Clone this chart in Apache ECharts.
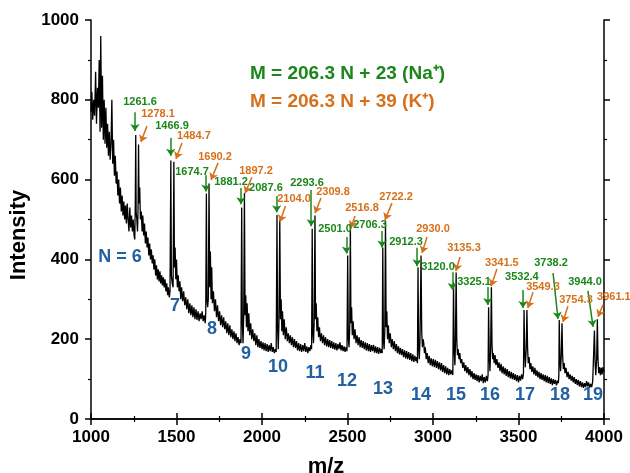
<!DOCTYPE html>
<html>
<head>
<meta charset="utf-8">
<script src="https://cdn.jsdelivr.net/npm/echarts@6/dist/echarts.min.js"></script>
<style>html,body{margin:0;padding:0;background:#fff;}#c{width:630px;height:473px;}</style>
</head>
<body>
<div id="c"></div>
<script>
// ---- data ----
const xTicks = [1000, 1500, 2000, 2500, 3000, 3500, 4000];
const yTicks = [0, 200, 400, 600, 800, 1000];
const naPeaks = [1261.6, 1466.9, 1674.7, 1881.2, 2087.6, 2293.6, 2501.0, 2706.3, 2912.3, 3120.0, 3325.1, 3532.4, 3738.2, 3944.0];
const kPeaks = [1278.1, 1484.7, 1690.2, 1897.2, 2104.0, 2309.8, 2516.8, 2722.2, 2930.0, 3135.3, 3341.5, 3549.3, 3754.3, 3961.1];
const nValues = [6, 7, 8, 9, 10, 11, 12, 13, 14, 15, 16, 17, 18, 19];
const spectrum = [
[1000,770],[1005,820],[1010,750],[1016,800],[1021,760],[1027,870],[1032,740],[1038,830],[1043,780],[1048,900],[1053,720],[1057,960],[1062,730],[1067,860],[1072,700],[1077,800],[1082,690],[1087,780],[1092,680],[1097,740],[1102,660],[1107,720],[1112,650],[1117,690],[1122,800],[1127,640],[1132,700],[1137,610],[1142,660],[1147,590],[1152,620],[1157,560],[1162,600],[1167,540],[1172,580],[1177,520],[1182,560],[1187,510],[1192,545],[1197,500],[1202,535],[1207,490],[1212,540],[1217,500],[1222,470],[1227,530],[1232,480],[1237,510],[1242,470],[1247,500],[1252,460],[1256,450],
[1259,540],[1261.6,712],[1264,520],[1268,500],[1272,470],[1275,520],[1278.1,688],[1281,540],[1285,580],[1289,500],[1294,520],[1299,470],
[1303,510],[1308,460],[1313,490],[1318,440],[1323,470],[1328,430],[1333,455],[1338,410],[1343,440],[1348,400],[1353,425],[1358,390],[1363,410],[1368,375],[1373,400],[1378,360],[1383,385],[1388,350],[1393,375],[1398,345],[1403,370],[1408,340],[1413,360],[1418,335],[1423,355],[1428,330],[1433,350],[1438,320],[1443,340],[1448,310],[1452,330],[1458,305],
[1462,320],[1466.9,648],[1470,360],[1475,340],[1480,330],[1484.7,645],[1488,380],[1492,430],[1496,350],[1500,400],[1505,330],[1510,360],[1515,320],[1520,345],[1525,300],[1530,330],[1536,295],[1542,320],[1548,285],[1554,305],[1560,275],[1566,300],[1572,265],[1578,290],[1584,260],[1590,285],[1596,255],[1602,280],[1608,250],[1614,275],[1620,248],[1626,270],[1632,245],[1638,265],[1644,250],[1650,270],[1656,245],[1662,260],[1668,240],
[1671,265],[1674.7,565],[1678,300],[1682,280],[1686,300],[1690.2,590],[1694,330],[1698,420],[1702,300],[1706,380],[1710,290],[1716,320],[1722,270],[1728,300],[1734,255],[1740,285],[1746,245],[1752,270],[1758,235],[1764,260],[1770,230],[1776,255],[1782,225],[1788,245],[1794,215],[1800,240],[1806,210],[1812,235],[1818,205],[1824,225],[1830,200],[1836,220],[1842,195],[1848,215],[1854,190],[1860,205],[1866,185],[1872,200],[1877,190],
[1881.2,530],[1885,240],[1889,190],[1893,260],[1897.2,566],[1901,260],[1905,310],[1909,230],[1913,290],[1918,220],[1923,265],[1928,210],[1934,240],[1940,200],[1946,225],[1952,195],[1958,215],[1964,185],[1970,210],[1976,180],[1982,200],[1988,178],[1994,195],[2000,175],[2006,192],[2012,172],[2018,190],[2024,170],[2030,188],[2036,168],[2042,185],[2048,170],[2054,190],[2060,168],[2066,180],[2072,165],[2078,175],[2083,168],
[2087.6,511],[2091,230],[2095,175],[2099,240],[2104,500],[2108,250],[2112,300],[2116,220],[2120,270],[2125,210],[2130,250],[2136,200],[2142,230],[2148,195],[2154,215],[2160,190],[2166,210],[2172,185],[2178,205],[2184,180],[2190,200],[2196,178],[2202,195],[2208,172],[2214,190],[2220,170],[2226,188],[2232,168],[2238,185],[2244,170],[2250,190],[2256,168],[2262,182],[2268,165],[2274,180],[2280,170],[2286,185],[2290,175],
[2293.6,477],[2297,220],[2301,190],[2305,240],[2309.8,510],[2313,250],[2317,290],[2321,220],[2326,255],[2331,205],[2336,230],[2342,195],[2348,215],[2354,190],[2360,210],[2366,185],[2372,205],[2378,182],[2384,200],[2390,180],[2396,198],[2402,178],[2408,195],[2414,176],[2420,192],[2426,174],[2432,190],[2438,172],[2444,188],[2450,175],[2456,192],[2462,172],[2468,185],[2474,170],[2480,182],[2486,168],[2492,180],[2497,170],
[2501,410],[2505,200],[2509,180],[2513,230],[2516.8,490],[2520,240],[2524,280],[2528,210],[2533,245],[2538,200],[2544,225],[2550,190],[2556,210],[2562,185],[2568,205],[2574,180],[2580,198],[2586,178],[2592,195],[2598,175],[2604,192],[2610,172],[2616,190],[2622,170],[2628,188],[2634,168],[2640,185],[2646,170],[2652,186],[2658,166],[2664,182],[2670,165],[2676,180],[2682,163],[2688,178],[2694,165],[2699,175],[2703,165],
[2706.3,430],[2710,200],[2714,175],[2718,220],[2722.2,497],[2726,230],[2730,270],[2734,200],[2739,235],[2744,190],[2750,215],[2756,180],[2762,200],[2768,175],[2774,195],[2780,170],[2786,188],[2792,165],[2798,182],[2804,162],[2810,178],[2816,160],[2822,175],[2828,155],[2834,172],[2840,152],[2846,170],[2852,150],[2858,168],[2864,148],[2870,165],[2876,145],[2882,162],[2888,143],[2894,158],[2900,145],[2905,155],[2909,140],
[2912.3,380],[2916,180],[2920,150],[2924,200],[2930,410],[2934,220],[2938,180],[2942,200],[2946,190],[2950,165],[2955,180],[2960,150],[2966,165],[2972,140],[2978,158],[2984,135],[2990,152],[2996,132],[3002,150],[3008,130],[3014,148],[3020,128],[3026,145],[3032,125],[3038,142],[3044,122],[3050,140],[3056,118],[3062,135],[3068,115],[3074,132],[3080,112],[3086,128],[3092,110],[3098,125],[3104,112],[3110,122],[3116,110],
[3120,342],[3124,170],[3128,135],[3131,180],[3135.3,367],[3139,200],[3143,160],[3147,175],[3152,150],[3157,165],[3162,140],[3168,150],[3174,128],[3180,142],[3186,120],[3192,135],[3198,115],[3204,130],[3210,110],[3216,125],[3222,105],[3228,120],[3234,100],[3240,115],[3246,98],[3252,112],[3258,95],[3264,110],[3270,92],[3276,108],[3282,95],[3288,112],[3294,90],[3300,105],[3306,92],[3312,108],[3318,95],[3322,110],
[3325.1,280],[3329,160],[3333,120],[3337,170],[3341.5,330],[3345,190],[3349,150],[3353,165],[3358,140],[3363,160],[3368,135],[3374,150],[3380,128],[3386,142],[3392,120],[3398,138],[3404,115],[3410,132],[3416,112],[3422,128],[3428,108],[3434,125],[3440,105],[3446,120],[3452,102],[3458,118],[3464,100],[3470,115],[3476,98],[3482,112],[3488,95],[3494,110],[3500,92],[3506,108],[3512,96],[3518,112],[3524,100],[3529,115],
[3532.4,273],[3536,170],[3540,130],[3545,175],[3549.3,273],[3553,180],[3557,140],[3562,155],[3567,125],[3572,140],[3578,118],[3584,132],[3590,112],[3596,128],[3602,108],[3608,122],[3614,104],[3620,118],[3626,100],[3632,115],[3638,98],[3644,112],[3650,95],[3656,110],[3662,92],[3668,108],[3674,90],[3680,105],[3686,88],[3692,102],[3698,85],[3704,100],[3710,88],[3716,98],[3722,84],[3728,96],[3733,90],[3736,110],
[3738.2,248],[3742,150],[3746,120],[3750,160],[3754.3,240],[3758,160],[3762,125],[3767,140],[3772,115],[3778,128],[3784,105],[3790,118],[3796,100],[3802,112],[3808,96],[3814,108],[3820,92],[3826,105],[3832,88],[3838,100],[3844,85],[3850,98],[3856,82],[3862,95],[3868,80],[3874,92],[3880,78],[3886,90],[3892,80],[3898,95],[3904,82],[3910,92],[3916,78],[3922,88],[3928,80],[3934,95],[3939,90],
[3944,222],[3948,140],[3952,110],[3957,150],[3961.1,250],[3965,150],[3969,115],[3974,130],[3979,110],[3984,128],[3989,112],[3994,130],[4000,118]
];

// ---- annotation layout (data-space anchors) ----
const naLabelPos = [[1287,794],[1474,734],[1591,619],[1819,594],[2023,579],[2263,591],[2427,476],[2632,486],[2842,444],[3029,381],[3240,343],[3520,356],[3690,391],[3889,343]];
const naArrows = [[1257,769,1257,722],[1466,704,1466,660],[1672,611,1672,570],[1877,579,1877,538],[2086,559,2086,518],[2288,574,2288,483],[2494,456,2494,415],[2702,471,2702,430],[2907,429,2907,383],[3113,368,3113,323],[3320,331,3320,286],[3526,323,3526,278],[3702,366,3731,251],[3906,321,3936,231]];
const kLabelPos = [[1392,764],[1602,709],[1725,657],[1965,622],[2187,551],[2415,569],[2585,529],[2784,556],[3000,476],[3181,429],[3403,391],[3643,331],[3836,298],[4058,306]];
const kArrows = [[1327,734,1292,694],[1532,692,1497,652],[1743,642,1702,599],[1941,606,1901,566],[2137,534,2105,494],[2345,554,2310,516],[2544,509,2520,479],[2760,541,2719,499],[2965,456,2936,416],[3158,406,3134,371],[3374,376,3339,333],[3585,318,3555,278],[3789,283,3760,243],[3994,286,3965,256]];
const nLabelPos = [[1170,406],[1491,283],[1708,226],[1906,163],[2094,130],[2310,115],[2497,95],[2708,75],[2930,60],[3135,60],[3333,60],[3538,60],[3743,60],[3936,60]];

const GREEN = '#1a871a', ORANGE = '#d6701a', BLUE = '#22609f';
const FONT = 'Liberation Sans, Arial, Helvetica, sans-serif';

function labelSeries(name, pos, texts, color, size, arrows) {
  const s = {
    type: 'scatter', name, xAxisIndex: 0, yAxisIndex: 0,
    symbolSize: 1, itemStyle: { color: 'rgba(0,0,0,0)', opacity: 1 }, clip: false, silent: true, z: 5,
    data: pos.map((p, i) => ({ value: p, label: { formatter: texts[i] } })),
    label: { show: true, position: 'inside', color, opacity: 1, textBorderWidth: 0, textShadowBlur: 0,
      fontSize: size, fontWeight: 'bold', fontFamily: FONT },
    emphasis: { disabled: true },
    animation: false
  };
  if (arrows) {
    s.markLine = {
      silent: true, animation: false, symbol: ['none', 'arrow'], symbolSize: 7,
      label: { show: false },
      lineStyle: { color, width: 1.5, type: 'solid', opacity: 1 },
      data: arrows.map(a => [{ coord: [a[0], a[1]] }, { coord: [a[2], a[3]] }])
    };
  }
  return s;
}

const axisCommon = {
  type: 'value', min: 1000, max: 4000, interval: 500,
  axisLine: { show: true, lineStyle: { color: '#000', width: 1.5 } },
  axisTick: { show: true, inside: false, length: 6, lineStyle: { color: '#000', width: 1.5 } },
  minorTick: { show: true, splitNumber: 2, length: 3, lineStyle: { color: '#000', width: 1.2 } },
  splitLine: { show: false }
};

const chart = echarts.init(document.getElementById('c'), null, { renderer: 'canvas' });
chart.setOption({
  backgroundColor: '#fff',
  animation: false,
  grid: { left: 91, right: 26, top: 20, bottom: 54 },
  xAxis: [
    Object.assign({}, axisCommon, {
      position: 'bottom',
      axisLabel: { show: true, color: '#000', fontSize: 17, fontWeight: 'bold', fontFamily: FONT, margin: 10,
        formatter: v => xTicks.includes(v) ? String(v) : '' }
    }),
    Object.assign({}, axisCommon, { position: 'top', axisLabel: { show: false } })
  ],
  yAxis: [
    Object.assign({}, axisCommon, {
      min: 0, max: 1000, interval: 200, position: 'left',
      axisLabel: { show: true, color: '#000', fontSize: 17, fontWeight: 'bold', fontFamily: FONT, margin: 12,
        formatter: v => yTicks.includes(v) ? String(v) : '' }
    }),
    Object.assign({}, axisCommon, { min: 0, max: 1000, interval: 200, position: 'right', axisLabel: { show: false } })
  ],
  series: [
    {
      type: 'line', data: spectrum, xAxisIndex: 0, yAxisIndex: 0, symbol: 'none', showSymbol: false,
      lineStyle: { color: '#000', width: 1.3 }, itemStyle: { color: '#000' }, z: 3, animation: false
    },
    labelSeries('na', naLabelPos, naPeaks.map(v => v.toFixed(1)), GREEN, 11, naArrows),
    labelSeries('k', kLabelPos, kPeaks.map(v => v.toFixed(1)), ORANGE, 11, kArrows),
    labelSeries('n', nLabelPos, nValues.map((v, i) => i === 0 ? 'N = ' + v : String(v)), BLUE, 18, null)
  ],
  graphic: [
    { type: 'text', left: 250, top: 64, style: { text: 'M = 206.3 N + 23 (Na\u207A)', fill: GREEN, font: 'bold 19px ' + FONT } },
    { type: 'text', left: 250, top: 92, style: { text: 'M = 206.3 N + 39 (K\u207A)', fill: ORANGE, font: 'bold 19px ' + FONT } },
    { type: 'text', x: 19, y: 235, rotation: Math.PI / 2, style: { text: 'Intensity', fill: '#000', font: 'bold 22px ' + FONT, align: 'center', verticalAlign: 'middle' } },
    { type: 'text', x: 326, y: 456, style: { text: 'm/z', fill: '#000', font: 'bold 22px ' + FONT, align: 'center', verticalAlign: 'top' } }
  ]
});
</script>
</body>
</html>
